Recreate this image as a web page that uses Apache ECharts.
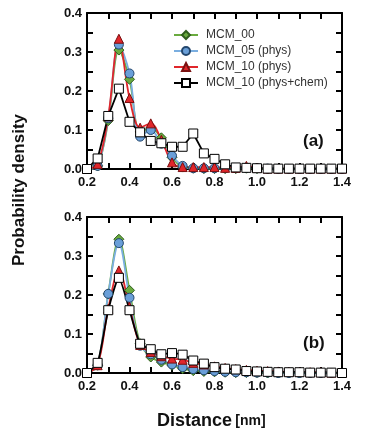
<!DOCTYPE html>
<html>
<head>
<meta charset="utf-8">
<script src="https://cdn.jsdelivr.net/npm/echarts@6/dist/echarts.min.js"></script>
<style>
html,body{margin:0;padding:0;background:#fff;}
#c{width:386px;height:441px;}
</style>
</head>
<body>
<div id="c"></div>
<script>
// Distance values (nm)
var distance = [0.2,0.25,0.3,0.35,0.4,0.45,0.5,0.55,0.6,0.65,0.7,0.75,0.8,0.85,0.9,0.95,1.0,1.05,1.1,1.15,1.2,1.25,1.3,1.35,1.4];
var seriesNames = ['MCM_00','MCM_05 (phys)','MCM_10 (phys)','MCM_10 (phys+chem)'];
var xTickLabels = ['0.2','0.4','0.6','0.8','1.0','1.2','1.4'];
var yTickLabels = ['0.0','0.1','0.2','0.3','0.4'];

// Panel (a)
var a_mcm00     = [0,0.008,0.124,0.305,0.230,0.095,0.105,0.080,0.030,0.005,0.002,0.001,0.001,0.001,0.001,0.002,0.001,0,0,0,0,0,0,0,0];
var a_mcm05     = [0,0.008,0.130,0.319,0.245,0.083,0.100,0.065,0.034,0.008,0.002,0.002,0.002,0.002,0.002,0.003,0.002,0.001,0,0,0,0,0,0,0];
var a_mcm10     = [0,0.013,0.135,0.334,0.182,0.106,0.117,0.075,0.017,0.005,0.005,0.005,0.005,0.003,0.003,0.008,0.003,0.001,0.001,0.001,0.001,0.001,0.001,0.001,0.001];
var a_mcm10chem = [0,0.027,0.136,0.206,0.121,0.094,0.072,0.066,0.057,0.057,0.091,0.040,0.026,0.012,0.004,0.003,0.002,0.001,0.001,0.001,0.001,0.001,0.001,0.001,0.001];

// Panel (b)
var b_mcm00     = [0,0.020,0.203,0.343,0.212,0.075,0.041,0.028,0.020,0.011,0.006,0.004,0.003,0.002,0.001,0.001,0.001,0,0,0,0,0,0,0,0];
var b_mcm05     = [0,0.020,0.203,0.333,0.193,0.070,0.048,0.034,0.022,0.015,0.010,0.007,0.005,0.003,0.002,0.002,0.001,0.001,0,0,0,0,0,0,0];
var b_mcm10     = [0,0.020,0.165,0.263,0.170,0.072,0.054,0.043,0.037,0.034,0.026,0.022,0.017,0.013,0.010,0.008,0.006,0.005,0.004,0.003,0.003,0.002,0.002,0.001,0.001];
var b_mcm10chem = [0,0.026,0.161,0.244,0.161,0.075,0.061,0.048,0.051,0.047,0.032,0.024,0.015,0.011,0.009,0.005,0.004,0.003,0.002,0.002,0.002,0.001,0.001,0.001,0];

function pairs(v){ return distance.map(function(x,i){ return [x, v[i]]; }); }

var FONT = '"Liberation Sans", Arial, sans-serif';
var styles = [
  {color:'#6aab3f', line:'#6aab3f', symbol:'diamond', size:10, border:'#2f5e1c'},
  {color:'#6a9fd8', line:'#7aaee0', symbol:'circle', size:9, border:'#23476e'},
  {color:'#e0262b', line:'#e0262b', symbol:'triangle', size:9, border:'#7a1010'},
  {color:'#ffffff', line:'#000000', symbol:'rect', size:9, border:'#000000'}
];

function mkSeries(name, data, st, gi, smooth){
  return {
    name: name, type:'line', data: pairs(data),
    xAxisIndex: gi*2, yAxisIndex: gi*2,
    smooth: smooth, symbol: st.symbol, symbolSize: st.size,
    showAllSymbol: true,
    lineStyle:{color: st.line, width: 1.8},
    itemStyle:{color: st.color, borderColor: st.border, borderWidth: 1},
    emphasis:{disabled:true},
    z: 3
  };
}

function xAxes(gi){
  var base = {
    type:'value', gridIndex: gi, min:0.2, max:1.4, interval:0.1,
    axisLine:{show:true, onZero:false, lineStyle:{color:'#000', width:2}},
    axisTick:{show:true, inside:true, length:6, lineStyle:{color:'#000', width:2}},
    splitLine:{show:false}
  };
  var bottom = Object.assign({}, base, {
    position:'bottom',
    axisLabel:{show:true, margin:7, color:'#111', fontFamily:FONT, fontWeight:'bold', fontSize:13,
      formatter:function(v){ var k = Math.round(v*10); if (k % 2 !== 0) return ''; var s=(k/10).toFixed(1); return xTickLabels.indexOf(s)>=0 ? s : ''; }}
  });
  var top = Object.assign({}, base, {position:'top', axisLabel:{show:false}});
  return [bottom, top];
}
function yAxes(gi){
  var base = {
    type:'value', gridIndex: gi, min:0, max:0.4, interval:0.05,
    axisLine:{show:true, onZero:false, lineStyle:{color:'#000', width:2}},
    axisTick:{show:true, inside:true, length:6, lineStyle:{color:'#000', width:2}},
    splitLine:{show:false}
  };
  var left = Object.assign({}, base, {
    position:'left',
    axisLabel:{show:true, margin:5, color:'#111', fontFamily:FONT, fontWeight:'bold', fontSize:13,
      formatter:function(v){ var k = Math.round(v*100); if (k % 10 !== 0) return ''; var s=(k/100).toFixed(1); return yTickLabels.indexOf(s)>=0 ? s : ''; }}
  });
  var right = Object.assign({}, base, {position:'right', axisLabel:{show:false}});
  return [left, right];
}

var chart = echarts.init(document.getElementById('c'), null, {renderer:'canvas'});
var series = [
  mkSeries(seriesNames[0], a_mcm00, styles[0], 0, 0.35),
  mkSeries(seriesNames[1], a_mcm05, styles[1], 0, 0.35),
  mkSeries(seriesNames[2], a_mcm10, styles[2], 0, 0.35),
  mkSeries(seriesNames[3], a_mcm10chem, styles[3], 0, false),
  mkSeries(seriesNames[0], b_mcm00, styles[0], 1, 0.35),
  mkSeries(seriesNames[1], b_mcm05, styles[1], 1, 0.35),
  mkSeries(seriesNames[2], b_mcm10, styles[2], 1, 0.35),
  mkSeries(seriesNames[3], b_mcm10chem, styles[3], 1, 0.2)
];

chart.setOption({
  animation:false,
  backgroundColor:'#fff',
  grid:[
    {left:87, top:13, width:255, height:156},
    {left:87, top:217, width:255, height:156}
  ],
  xAxis: xAxes(0).concat(xAxes(1)),
  yAxis: yAxes(0).concat(yAxes(1)),
  legend:{
    data: seriesNames, orient:'vertical', left:168, top:24,
    itemWidth:24, itemHeight:10, itemGap:4,
    textStyle:{fontFamily:FONT, fontSize:12, color:'#333', padding:[0,0,0,3]},
    selectedMode:false
  },
  graphic:[
    {type:'text', left:303, top:133, style:{text:'(a)', font:'bold 17px '+FONT, fill:'#111'}},
    {type:'text', left:303, top:335, style:{text:'(b)', font:'bold 17px '+FONT, fill:'#111'}},
    {type:'text', x:19, y:190, rotation:Math.PI/2,
      style:{text:'Probability density', font:'bold 17px '+FONT, fill:'#111', align:'center', verticalAlign:'middle'}},
    {type:'text', left:157, top:412,
      style:{rich:{a:{font:'bold 18px '+FONT, fill:'#111'}, b:{font:'bold 14px '+FONT, fill:'#111'}},
        text:'{a|Distance} {b|[nm]}'}}
  ],
  series: series
});
</script>
</body>
</html>
